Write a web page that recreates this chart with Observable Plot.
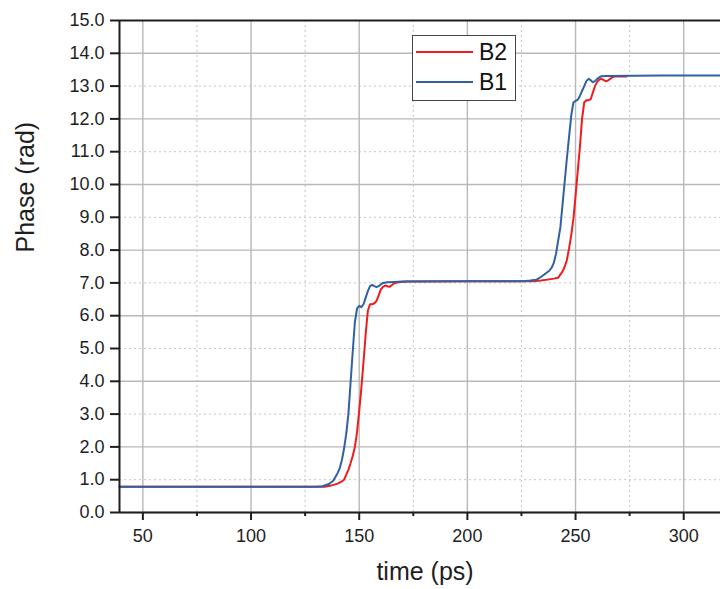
<!DOCTYPE html>
<html>
<head>
<meta charset="utf-8">
<script src="https://cdn.jsdelivr.net/npm/d3@7"></script>
<script src="https://cdn.jsdelivr.net/npm/@observablehq/plot@0.6"></script>
<style>
  html, body { margin: 0; padding: 0; background: #fff; }
  #wrap { position: relative; width: 720px; height: 589px; overflow: hidden; font-family: "Liberation Sans", Arial, sans-serif; }
  #legend { position: absolute; left: 0; top: 0; pointer-events: none; }
</style>
</head>
<body>
<div id="wrap"></div>
<script>
// ---- data ----
const seriesNames = ["B2", "B1"];
const seriesColors = ["#ee1d1d", "#2f62a3"];

const timeB1 = [39.2, 130, 133, 136, 138, 140, 141, 142, 143, 144, 145, 146, 147, 148, 149, 150, 151, 152, 153, 154, 155, 156, 157, 158, 159, 160, 161, 163, 166, 170, 200, 226, 229, 232, 234, 236, 238, 239, 240, 241, 242, 243, 244, 245, 246, 247, 248, 249, 250, 251, 252, 253, 254, 255, 256, 257, 258, 259, 260, 261, 262, 264, 290, 317];
const phaseB1 = [0.785, 0.785, 0.80, 0.87, 0.97, 1.2, 1.35, 1.6, 1.95, 2.4, 3.0, 3.95, 4.9, 5.8, 6.22, 6.3, 6.26, 6.35, 6.55, 6.75, 6.9, 6.94, 6.9, 6.87, 6.9, 6.95, 7.0, 7.02, 7.03, 7.04, 7.05, 7.05, 7.07, 7.1, 7.18, 7.28, 7.38, 7.47, 7.62, 7.9, 8.3, 8.7, 9.4, 10.1, 10.8, 11.45, 12.1, 12.5, 12.55, 12.58, 12.7, 12.85, 13.0, 13.15, 13.22, 13.18, 13.12, 13.15, 13.22, 13.27, 13.3, 13.31, 13.32, 13.32];

const timeB2 = [39.2, 134, 137, 140, 142, 143, 144, 145, 146, 147, 148, 149, 150, 151, 152, 153, 154, 155, 156, 157, 158, 159, 160, 161, 162, 163, 164, 165, 166, 168, 172, 200, 230, 234, 237, 240, 242, 244, 245, 246, 247, 248, 249, 250, 251, 252, 253, 254, 255, 256, 257, 258, 259, 260, 261, 262, 263, 264, 265, 266, 267, 268, 273.5];
const phaseB2 = [0.785, 0.785, 0.82, 0.88, 0.95, 1.0, 1.15, 1.3, 1.5, 1.72, 2.0, 2.45, 3.1, 3.8, 4.6, 5.45, 6.15, 6.35, 6.35, 6.38, 6.45, 6.62, 6.8, 6.88, 6.92, 6.9, 6.88, 6.93, 6.98, 7.02, 7.04, 7.05, 7.05, 7.07, 7.1, 7.13, 7.16, 7.35, 7.5, 7.7, 8.05, 8.45, 8.95, 9.65, 10.4, 11.13, 12.0, 12.5, 12.57, 12.57, 12.6, 12.8, 13.0, 13.13, 13.2, 13.22, 13.18, 13.15, 13.17, 13.22, 13.27, 13.29, 13.29];

const xMajorTicks = [50, 100, 150, 200, 250, 300];
const xMajorLabels = ["50", "100", "150", "200", "250", "300"];
const xMinorTicks = [75, 125, 175, 225, 275];
const yTicks = [0, 1, 2, 3, 4, 5, 6, 7, 8, 9, 10, 11, 12, 13, 14, 15];
const yTickLabels = ["0.0", "1.0", "2.0", "3.0", "4.0", "5.0", "6.0", "7.0", "8.0", "9.0", "10.0", "11.0", "12.0", "13.0", "14.0", "15.0"];
const yMajorGrid = [0, 2, 4, 6, 8, 10, 12, 14];
const yMinorGrid = [1, 3, 5, 7, 9, 11, 13];
const xDomain = [39.2, 317];
const yDomain = [0, 15];
const xTitle = "time (ps)";
const yTitle = "Phase (rad)";

// ---- build ----
const b1 = timeB1.map((t, i) => ({t, v: phaseB1[i]}));
const b2 = timeB2.map((t, i) => ({t, v: phaseB2[i]}));
const axisColor = "#1e1e1e";

const chart = Plot.plot({
  width: 720,
  height: 589,
  marginLeft: 119,
  marginRight: 0,
  marginTop: 20,
  marginBottom: 77,
  x: {domain: xDomain},
  y: {domain: yDomain},
  style: {fontFamily: "'Liberation Sans', Arial, sans-serif", color: axisColor, background: "#fff"},
  marks: [
    Plot.gridX(xMinorTicks, {stroke: "#c4c4c4", strokeOpacity: 1, strokeWidth: 1, strokeDasharray: "2,3"}),
    Plot.gridY(yMinorGrid, {stroke: "#c4c4c4", strokeOpacity: 1, strokeWidth: 1, strokeDasharray: "2,3"}),
    Plot.gridX(xMajorTicks, {stroke: "#b8b8b8", strokeOpacity: 1, strokeWidth: 1.4}),
    Plot.gridY(yMajorGrid, {stroke: "#b8b8b8", strokeOpacity: 1, strokeWidth: 1.4}),
    Plot.line(b2, {x: "t", y: "v", stroke: seriesColors[0], strokeWidth: 2}),
    Plot.line(b1, {x: "t", y: "v", stroke: seriesColors[1], strokeWidth: 2}),
    Plot.axisY(yTicks, {tickSize: 9, tickPadding: 6, fontSize: 18, strokeWidth: 2,
      tickFormat: d => yTickLabels[yTicks.indexOf(d)], label: null}),
    Plot.axisX(xMajorTicks, {tickSize: 8, tickPadding: 9, fontSize: 18, strokeWidth: 2,
      tickFormat: d => xMajorLabels[xMajorTicks.indexOf(d)], label: null}),
    Plot.axisX(xMinorTicks, {tickSize: 4, strokeWidth: 2, tickFormat: () => "", label: null}),
    Plot.ruleX([xDomain[0]], {stroke: axisColor, strokeWidth: 2}),
    Plot.ruleY([yDomain[0]], {stroke: axisColor, strokeWidth: 2}),
    Plot.ruleY([yDomain[1]], {stroke: axisColor, strokeWidth: 2}),
    Plot.text([xTitle], {frameAnchor: "bottom", lineAnchor: "top", dx: 5, dy: 50, fontSize: 25, fill: axisColor}),
    Plot.text([yTitle], {frameAnchor: "left", rotate: -90, dx: -94, dy: -14, fontSize: 25, fill: axisColor})
  ]
});

const wrap = document.getElementById("wrap");
wrap.appendChild(chart);

// legend
const ns = "http://www.w3.org/2000/svg";
const leg = document.createElementNS(ns, "svg");
leg.setAttribute("id", "legend");
leg.setAttribute("width", 720);
leg.setAttribute("height", 589);
const box = document.createElementNS(ns, "rect");
box.setAttribute("x", 412.5); box.setAttribute("y", 35.5);
box.setAttribute("width", 103); box.setAttribute("height", 65);
box.setAttribute("fill", "#fff"); box.setAttribute("stroke", "#444"); box.setAttribute("stroke-width", 1);
leg.appendChild(box);
const rowsY = [52, 82];
seriesNames.forEach((name, i) => {
  const ln = document.createElementNS(ns, "line");
  ln.setAttribute("x1", 416); ln.setAttribute("x2", 473);
  ln.setAttribute("y1", rowsY[i]); ln.setAttribute("y2", rowsY[i]);
  ln.setAttribute("stroke", seriesColors[i]); ln.setAttribute("stroke-width", 2);
  leg.appendChild(ln);
  const tx = document.createElementNS(ns, "text");
  tx.setAttribute("x", 479); tx.setAttribute("y", rowsY[i] + 8);
  tx.setAttribute("font-family", "'Liberation Sans', Arial, sans-serif");
  tx.setAttribute("font-size", 23);
  tx.setAttribute("fill", "#111");
  tx.textContent = name;
  leg.appendChild(tx);
});
wrap.appendChild(leg);
</script>
</body>
</html>
